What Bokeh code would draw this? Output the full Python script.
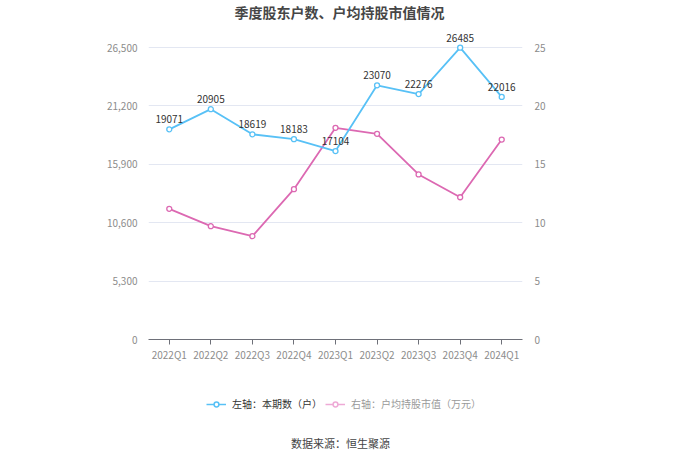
from bokeh.plotting import figure
from bokeh.layouts import column
from bokeh.models import (ColumnDataSource, Range1d, LinearAxis, FixedTicker, Legend,
                          LegendItem, LabelSet, Label, NumeralTickFormatter, FactorRange)
from bokeh.core.properties import value
from bokeh.embed import file_html
from bokeh.resources import INLINE

quarters = ["2022Q1", "2022Q2", "2022Q3", "2022Q4", "2023Q1", "2023Q2", "2023Q3", "2023Q4", "2024Q1"]
holders = [19071, 20905, 18619, 18183, 17104, 23070, 22276, 26485, 22016]
avg_value = [11.19, 9.70, 8.85, 12.87, 18.12, 17.61, 14.13, 12.18, 17.12]
left_ticks = [0, 5300, 10600, 15900, 21200, 26500]
right_ticks = [0, 5, 10, 15, 20, 25]

title_text = "季度股东户数、户均持股市值情况"
legend_left = "左轴：本期数（户）"
legend_right = "右轴：户均持股市值（万元）"
source_text = "数据来源：恒生聚源"

FONT = "Noto Sans CJK SC"
BLUE = "#58c1f6"
PINK = "#dc69b2"
PINK_LIGHT = "#eeaad6"
GRID = "#e3e7f2"
TICK = "#8c8c8c"

src = ColumnDataSource(dict(q=quarters, h=holders, v=avg_value,
                            hl=[str(x) for x in holders]))

# frame: x 148..522, y 0..339 ; left axis 26,500 sits at y=47
top_l = 26500 * 339 / 292
top_r = 25 * 339 / 292

p = figure(width=680, height=370, x_range=FactorRange(*quarters), y_range=Range1d(0, top_l),
           output_backend="svg", toolbar_location=None,
           min_border_left=148, min_border_right=158, min_border_top=0, min_border_bottom=31)
p.outline_line_color = None
p.background_fill_color = "white"
p.border_fill_color = "white"
p.extra_y_ranges = {"right": Range1d(0, top_r)}

ya = p.yaxis[0]
ya.ticker = FixedTicker(ticks=left_ticks)
ya.formatter = NumeralTickFormatter(format="0,0")
ya.axis_line_color = None
ya.major_tick_line_color = None
ya.minor_tick_line_color = None
ya.major_label_text_color = TICK
ya.major_label_text_font = FONT
ya.major_label_text_font_size = "10px"
ya.major_label_standoff = 5

ra = LinearAxis(y_range_name="right", ticker=FixedTicker(ticks=right_ticks))
ra.axis_line_color = None
ra.major_tick_line_color = None
ra.minor_tick_line_color = None
ra.major_label_text_color = TICK
ra.major_label_text_font = FONT
ra.major_label_text_font_size = "10px"
ra.major_label_standoff = 6
p.add_layout(ra, "right")

xa = p.xaxis[0]
xa.axis_line_color = "#6e7079"
xa.major_tick_line_color = "#6e7079"
xa.major_tick_in = 0
xa.major_tick_out = 5
xa.major_label_text_color = TICK
xa.major_label_text_font = FONT
xa.major_label_text_font_size = "10px"
xa.major_label_standoff = 2

p.xgrid.grid_line_color = None
p.ygrid.ticker = FixedTicker(ticks=left_ticks)
p.ygrid.grid_line_color = GRID
p.ygrid.grid_line_width = 1

p.line("q", "v", source=src, y_range_name="right", line_color=PINK, line_width=1.8)
p.scatter("q", "v", source=src, y_range_name="right", size=5, line_color=PINK,
          fill_color="white", line_width=1.3)
p.line("q", "h", source=src, line_color=BLUE, line_width=1.8)
p.scatter("q", "h", source=src, size=5, line_color=BLUE, fill_color="white", line_width=1.3)

labels = LabelSet(x="q", y="h", text="hl", source=src, y_offset=6, text_align="center",
                  text_baseline="bottom", text_font=value(FONT), text_font_size=value("10px"),
                  text_color="#333333")
p.add_layout(labels)

p.add_layout(Label(x=191, y=328, x_units="screen", y_units="screen", text=title_text,
                   text_align="center", text_baseline="middle", text_font=FONT,
                   text_font_size="14px", text_font_style="bold", text_color="#464646"))

# bottom strip (same frame columns as the chart): legend and source
p2 = figure(width=680, height=90, x_range=Range1d(0, 374), y_range=Range1d(0, 90),
            output_backend="svg", toolbar_location=None,
            min_border_left=148, min_border_right=158, min_border_top=0, min_border_bottom=0)
p2.axis.visible = False
p2.grid.visible = False
p2.outline_line_color = None
p2.background_fill_color = "white"
p2.border_fill_color = "white"

d1 = p2.line(x=[-1000, -999], y=[-1000, -1000], line_color=BLUE, line_width=1.5)
e1 = p2.scatter(x=[-1000], y=[-1000], size=9, line_color=BLUE, fill_color="white", line_width=1.5)
d2 = p2.line(x=[-1000, -999], y=[-1000, -1000], line_color=PINK_LIGHT, line_width=1.5)
e2 = p2.scatter(x=[-1000], y=[-1000], size=9, line_color=PINK_LIGHT, fill_color="white",
                line_width=1.5)

common = dict(orientation="horizontal", label_text_font=FONT, label_text_font_size="10px",
              glyph_width=20, glyph_height=12, label_height=12, label_standoff=6,
              border_line_color=None, background_fill_alpha=0, padding=0, margin=0)
leg1 = Legend(items=[LegendItem(label=legend_left, renderers=[d1, e1])],
              location=(58, 49), label_text_color="#333333", **common)
leg2 = Legend(items=[LegendItem(label=legend_right, renderers=[d2, e2])],
              location=(177, 49), label_text_color="#9a9a9a", **common)
p2.add_layout(leg1)
p2.add_layout(leg2)

p2.add_layout(Label(x=192, y=18, x_units="screen", y_units="screen", text=source_text,
                    text_align="center", text_baseline="middle", text_font=FONT,
                    text_font_size="11px", text_color="#444444"))

layout = column(p, p2, spacing=0)
open("out.html", "w").write(file_html(layout, INLINE))
